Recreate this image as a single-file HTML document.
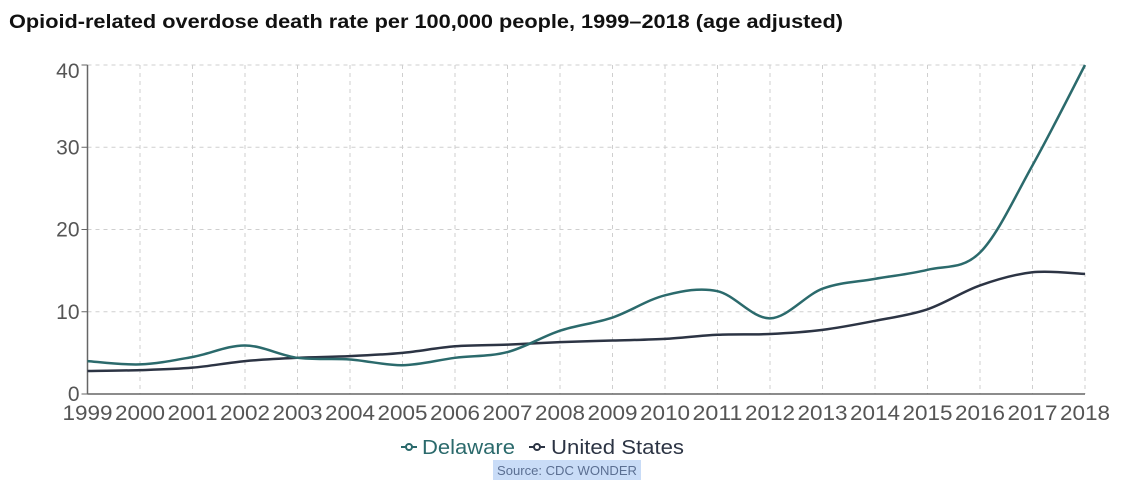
<!DOCTYPE html>
<html><head><meta charset="utf-8"><style>
body{margin:0;background:#fff;width:1124px;height:497px;overflow:hidden;font-family:"Liberation Sans",sans-serif}
</style></head><body>
<svg width="1124" height="497">
<text x="9" y="28" font-size="19" font-weight="bold" fill="#111" textLength="834" lengthAdjust="spacingAndGlyphs">Opioid-related overdose death rate per 100,000 people, 1999–2018 (age adjusted)</text>
<g id="grid"></g><g id="axes"></g><g id="lines"></g>
<g>
<g>
<line x1="401" y1="447" x2="417" y2="447" stroke="#2b6a6c" stroke-width="2"/><circle cx="409" cy="447" r="3" fill="#fff" stroke="#2b6a6c" stroke-width="2"/>
<text x="422" y="454" font-size="20" fill="#2b6a6c" textLength="93" lengthAdjust="spacingAndGlyphs">Delaware</text></g>
<g>
<line x1="529" y1="447" x2="545" y2="447" stroke="#2c3444" stroke-width="2"/><circle cx="537" cy="447" r="3" fill="#fff" stroke="#2c3444" stroke-width="2"/>
<text x="551" y="454" font-size="20" fill="#2c3444" textLength="133" lengthAdjust="spacingAndGlyphs">United States</text></g>
</g>
<rect x="493" y="460" width="148" height="20" fill="#c9dcf7"/>
<text x="567" y="475" font-size="13" fill="#5b6f92" text-anchor="middle" textLength="140" lengthAdjust="spacingAndGlyphs">Source: CDC WONDER</text>
</svg>
<script>
const years=[1999,2000,2001,2002,2003,2004,2005,2006,2007,2008,2009,2010,2011,2012,2013,2014,2015,2016,2017,2018];
const delaware=[4.0,3.6,4.5,5.9,4.4,4.2,3.5,4.4,5.1,7.7,9.3,12.0,12.5,9.2,12.8,14.0,15.1,17.2,27.8,40.0];
const unitedStates=[2.8,2.9,3.2,4.0,4.4,4.6,5.0,5.8,6.0,6.3,6.5,6.7,7.2,7.3,7.8,8.9,10.3,13.2,14.8,14.6];
const yTicks=[0,10,20,30,40];
const X0=87.5,X1=1085,Y0=394,Y1=65;
const xs=y=>X0+(y-1999)/(2018-1999)*(X1-X0);
const ys=v=>Y0-v/40*(Y0-Y1);
const NS="http://www.w3.org/2000/svg";
function mk(t,a,p){const e=document.createElementNS(NS,t);for(const k in a)e.setAttribute(k,a[k]);p.appendChild(e);return e;}
const grid=document.getElementById('grid'),axes=document.getElementById('axes'),lines=document.getElementById('lines');
years.forEach(y=>{const l=mk('line',{x1:xs(y),x2:xs(y),y1:Y1,y2:Y0,stroke:'#cfcfcf','stroke-dasharray':'4,4'},grid);

const t=mk('text',{x:xs(y)-25,y:Y0+26,'font-size':'21',fill:'#555',textLength:50,lengthAdjust:'spacingAndGlyphs'},axes);t.textContent=y;
});
yTicks.forEach(v=>{if(v>0){const l=mk('line',{x1:X0,x2:X1,y1:ys(v),y2:ys(v),stroke:'#cfcfcf','stroke-dasharray':'4,4'},grid);
}
mk('line',{x1:X0-6,x2:X0,y1:ys(v),y2:ys(v),stroke:'#666'},axes);
const t=mk('text',{x:X0-8,y:ys(v)+(v==40?13:7),'text-anchor':'end','font-size':'21',fill:'#555'},axes);t.textContent=v;
});
const ya=mk('line',{x1:X0,x2:X0,y1:Y1,y2:Y0,stroke:'#666','stroke-width':1.5},axes);

const xa=mk('line',{x1:X0,x2:X1,y1:Y0,y2:Y0,stroke:'#666','stroke-width':1.5},axes);

function path(vals){const p=vals.map((v,i)=>[xs(years[i]),ys(v)]);let d='M'+p[0];
for(let i=0;i<p.length-1;i++){const a=p[i-1]||p[i],b=p[i],c=p[i+1],e=p[i+2]||c;
d+=' C'+(b[0]+(c[0]-a[0])/6)+','+(b[1]+(c[1]-a[1])/6)+' '+(c[0]-(e[0]-b[0])/6)+','+(c[1]-(e[1]-b[1])/6)+' '+c;}return d;}
const us=mk('path',{d:path(unitedStates),fill:'none',stroke:'#2c3444','stroke-width':2.5},lines);

const de=mk('path',{d:path(delaware),fill:'none',stroke:'#2b6a6c','stroke-width':2.5},lines);

</script>
</body></html>
